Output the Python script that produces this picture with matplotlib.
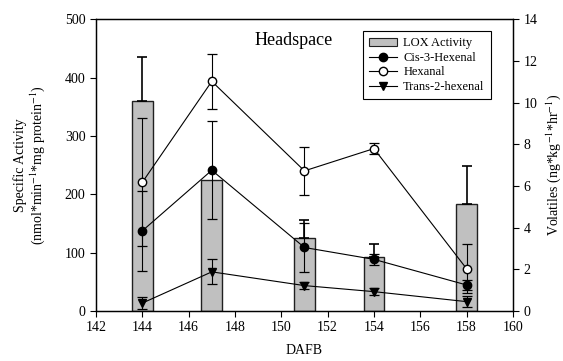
import numpy as np
import matplotlib.pyplot as plt
from matplotlib.lines import Line2D

plt.rcParams['font.family'] = ['Liberation Serif', 'DejaVu Serif']
plt.rcParams['mathtext.fontset'] = 'stix'

####
# Data
#===
dafb = np.array([144, 147, 151, 154, 158])

lox = np.array([361, 224, 126, 93, 184])          # nmol/min/mg protein
lox_err = np.array([74, 0, 30, 22, 65])           # upper error only

cis3 = np.array([3.85, 6.76, 3.05, 2.48, 1.25])   # ng/kg/hr
cis3_err = np.array([1.92, 2.36, 1.17, 0.25, 0.22])

hexanal = np.array([6.18, 11.03, 6.73, 7.80, 2.03])
hexanal_err = np.array([3.08, 1.32, 1.15, 0.28, 1.18])

trans2 = np.array([0.38, 1.88, 1.22, 0.93, 0.45])
trans2_err = np.array([0.28, 0.60, 0.18, 0.18, 0.25])


####
# Plot
#===
fig = plt.figure(figsize=(5.63, 3.61), dpi=100)
ax = fig.add_axes([0.1705, 0.1385, 0.7405, 0.8075])
ax2 = ax.twinx()

ax.bar(dafb, lox, width=0.9, color='#c0c0c0', edgecolor='#202020',
       linewidth=1.0, zorder=2)
keep = lox_err > 0
ax.errorbar(dafb[keep], lox[keep],
            yerr=[np.zeros(keep.sum()), lox_err[keep]], fmt='none',
            ecolor='black', elinewidth=1.2, capsize=3.5, capthick=1.2, zorder=3)

ebkw = dict(color='black', lw=0.8, ecolor='black', elinewidth=0.8,
            capsize=3.5, capthick=0.9, markersize=6)
ax2.errorbar(dafb, cis3, yerr=cis3_err, fmt='-o', mfc='black',
             mec='black', **ebkw)
ax2.errorbar(dafb, hexanal, yerr=hexanal_err, fmt='-o', mfc='white',
             mec='black', **ebkw)
ax2.errorbar(dafb, trans2, yerr=trans2_err, fmt='-v', mfc='black',
             mec='black', **ebkw)

ax.set_xlim(142, 160)
ax.set_ylim(0, 500)
ax2.set_ylim(0, 14)
ax.set_xticks(np.arange(142, 161, 2))
ax.set_yticks(np.arange(0, 501, 100))
ax2.set_yticks(np.arange(0, 15, 2))

for a in (ax, ax2):
    a.tick_params(direction='out', length=4, width=0.8, labelsize=10)
    for s in a.spines.values():
        s.set_linewidth(0.9)

ax.set_xlabel('DAFB', fontsize=10, labelpad=7)
ax.set_ylabel('Specific Activity\n(nmol*min$^{-1}$*mg protein$^{-1}$)',
              fontsize=10, labelpad=13, linespacing=1.05)
ax2.set_ylabel('Volatiles (ng*kg$^{-1}$*hr$^{-1}$)', fontsize=10, labelpad=5)

ax.text(0.475, 0.928, 'Headspace', transform=ax.transAxes, ha='center',
        va='center', fontsize=13)

handles = [
    plt.Rectangle((0, 0), 1, 1, facecolor='#c0c0c0', edgecolor='#202020', lw=0.8),
    Line2D([], [], color='black', lw=0.8, marker='o', mfc='black', mec='black', ms=6),
    Line2D([], [], color='black', lw=0.8, marker='o', mfc='white', mec='black', ms=6),
    Line2D([], [], color='black', lw=0.8, marker='v', mfc='black', mec='black', ms=6),
]
leg = ax2.legend(handles,
                 ['LOX Activity', 'Cis-3-Hexenal', 'Hexanal', 'Trans-2-hexenal'],
                 loc='upper right', bbox_to_anchor=(0.947, 0.96), fontsize=9,
                 fancybox=False, edgecolor='black', framealpha=1,
                 handlelength=2.2, borderpad=0.5, labelspacing=0.2,
                 handletextpad=0.5, borderaxespad=0)
leg.get_frame().set_linewidth(0.8)

fig.savefig('out.png', dpi=100)
